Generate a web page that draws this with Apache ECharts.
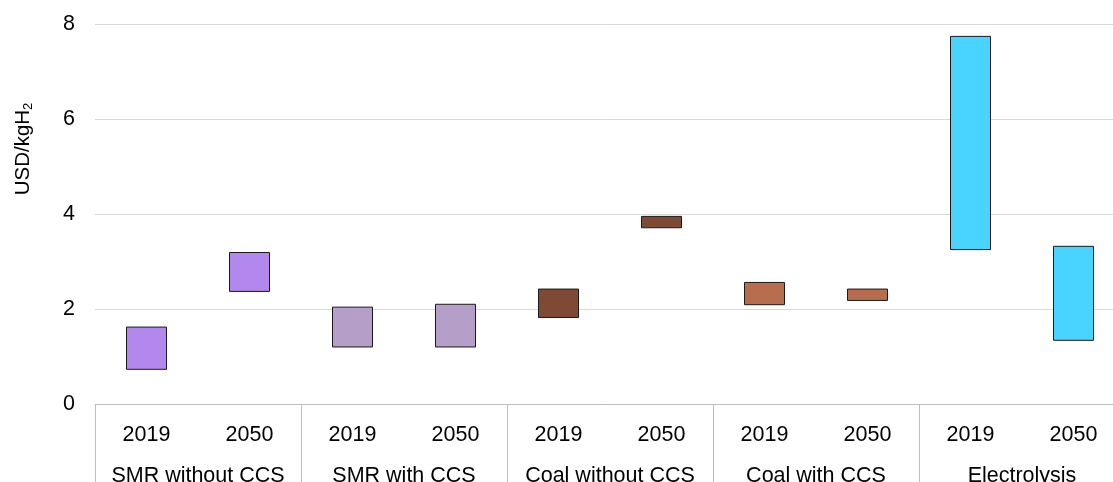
<!DOCTYPE html>
<html><head><meta charset="utf-8">
<script src="https://cdn.jsdelivr.net/npm/echarts@6/dist/echarts.min.js"></script>
<style>html,body{margin:0;padding:0;background:#fff}#c{width:1113px;height:482px}</style>
</head><body><div id="c"></div>
<script>
const years = ['2019','2050','2019','2050','2019','2050','2019','2050','2019','2050'];
const groups = ['SMR without CCS','SMR with CCS','Coal without CCS','Coal with CCS','Electrolysis'];
const lowValues  = [0.72, 2.36, 1.19, 1.19, 1.81, 3.70, 2.08, 2.17, 3.24, 1.33];
const highValues = [1.63, 3.20, 2.05, 2.11, 2.43, 3.96, 2.57, 2.43, 7.75, 3.33];
const groupColors = ['#b288ee','#b59fc9','#7f4a33','#b86d4e','#48d4ff'];
const yTicks = [0, 2, 4, 6, 8];

const font = 'Arial, "Liberation Sans", sans-serif';
const chart = echarts.init(document.getElementById('c'));
chart.setOption({
  animation: false,
  grid: { left: 95, top: 24, width: 1030, height: 380, containLabel: false, outerBoundsMode: 'none' },
  xAxis: [
    { type: 'category', data: years, position: 'bottom',
      axisLine: { show: true, lineStyle: { color: '#bfbfbf', width: 1 } },
      axisTick: { show: false },
      axisLabel: { color: '#000', fontSize: 21.5, fontFamily: font, margin: 20, interval: 0 } },
    { type: 'category', data: groups, position: 'bottom', gridIndex: 0,
      axisLine: { show: false },
      axisTick: { show: true, length: 90, interval: 0, lineStyle: { color: '#bfbfbf', width: 1 } },
      axisLabel: { color: '#000', fontSize: 21.5, fontFamily: font, margin: 61, interval: 0 },
      splitLine: { show: false } }
  ],
  yAxis: {
    type: 'value', min: yTicks[0], max: yTicks[yTicks.length - 1], interval: 2,
    axisLine: { show: false }, axisTick: { show: false },
    axisLabel: { color: '#000', fontSize: 21.5, fontFamily: font, margin: 20 },
    splitLine: { lineStyle: { color: '#d9d9d9', width: 1 } }
  },
  series: [
    { type: 'bar', stack: 'r', data: lowValues, barWidth: 41,
      itemStyle: { color: 'transparent' }, silent: true },
    { type: 'bar', stack: 'r', barWidth: 41,
      data: highValues.map((h, i) => ({
        value: +(h - lowValues[i]).toFixed(3),
        itemStyle: { color: groupColors[Math.floor(i / 2)] }
      })),
      itemStyle: { borderColor: '#1a1a1a', borderWidth: 1 } }
  ],
  graphic: [{
    type: 'text', x: 23, y: 149, rotation: Math.PI / 2,
    style: {
      text: '{a|USD/kgH}{s|2}', align: 'center', verticalAlign: 'middle',
      rich: {
        a: { fontSize: 20.5, fontFamily: font, fill: '#000' },
        s: { fontSize: 13, fontFamily: font, fill: '#000', padding: [11, 0, 0, 0] }
      }
    }
  }]
});
</script></body></html>
